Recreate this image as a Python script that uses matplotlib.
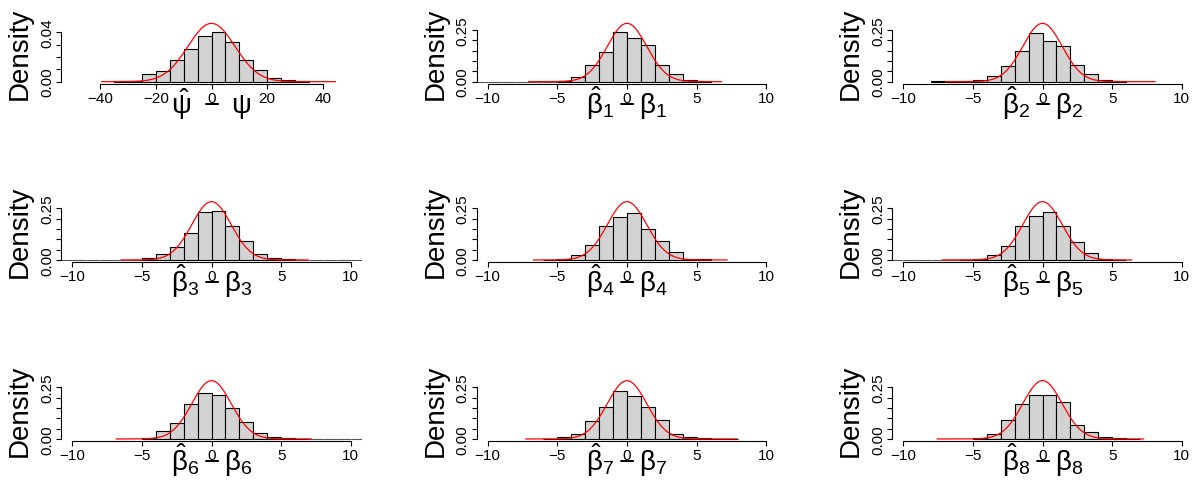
import numpy as np
import matplotlib
matplotlib.use('Agg')
import matplotlib.pyplot as plt

plt.rcParams['font.family'] = ['Liberation Sans', 'DejaVu Sans']
plt.rcParams['mathtext.fontset'] = 'custom'
plt.rcParams['mathtext.rm'] = 'Liberation Sans'
plt.rcParams['mathtext.it'] = 'Liberation Sans'
plt.rcParams['mathtext.bf'] = 'Liberation Sans:bold'

# ---- data (densities per bin) ----
psi_dens = [0.0003, 0.0008, 0.0065, 0.0089, 0.0176, 0.0262, 0.0368,
            0.0400, 0.0319, 0.0178, 0.0092, 0.0027, 0.0016, 0.0005]
b1_dens = [0.005, 0.023, 0.082, 0.142, 0.239, 0.210, 0.176, 0.079, 0.037, 0.008, 0.003]
b2_dens = [0.003, 0.002, 0.002, 0.006, 0.029, 0.074, 0.148, 0.234, 0.198,
           0.171, 0.081, 0.035, 0.008, 0.003]
b3_dens = [0.010, 0.028, 0.065, 0.130, 0.232, 0.237, 0.162, 0.091, 0.028, 0.008, 0.003]
b4_dens = [0.002, 0.003, 0.026, 0.071, 0.166, 0.207, 0.229, 0.151, 0.090, 0.039, 0.007, 0.003]
b5_dens = [0.002, 0.007, 0.023, 0.066, 0.164, 0.215, 0.230, 0.166, 0.087, 0.033, 0.005, 0.002]
b6_dens = [0.006, 0.040, 0.077, 0.169, 0.223, 0.215, 0.148, 0.084, 0.027, 0.011, 0.003, 0.002]
b7_dens = [0.002, 0.010, 0.025, 0.085, 0.153, 0.230, 0.210, 0.153, 0.092, 0.026,
           0.008, 0.004, 0.002, 0.001]
b8_dens = [0.006, 0.023, 0.094, 0.169, 0.212, 0.212, 0.177, 0.067, 0.034, 0.008, 0.003, 0.002]

densities = [psi_dens, b1_dens, b2_dens, b3_dens, b4_dens, b5_dens, b6_dens, b7_dens, b8_dens]
first_edge = [-35, -5, -8, -5, -6, -6, -5, -6, -5]
bin_width = [5, 1, 1, 1, 1, 1, 1, 1, 1]

# empty bins (zero height) that still show as a flat line
empty_bins = {1: [(-12, -5)], 3: [(-12, -5), (6, 12)], 5: [(-12, -6)], 6: [(7, 12)]}

# normal curve overlay: sd and drawn range
curve_sd = [8.43, 1.414, 1.414, 1.414, 1.414, 1.414, 1.414, 1.414, 1.414]
curve_from = [-39.4, -7.06, -6.95, -6.48, -6.71, -7.18, -6.84, -7.26, -7.55]
curve_to = [44.4, 6.78, 8.08, 6.93, 7.18, 6.40, 7.17, 7.90, 7.25]

labels = [r'$\hat{\psi}\ -\ \psi$'] + [r'$\hat{\beta}_%d - \beta_%d$' % (i, i) for i in range(1, 9)]

psi_xticks = [-40, -20, 0, 20, 40]
beta_xticks = [-10, -5, 0, 5, 10]
psi_yticks = [0.00, 0.01, 0.02, 0.03, 0.04]
beta_yticks = [0.00, 0.05, 0.10, 0.15, 0.20, 0.25]

# ---- layout in pixels ----
W, H = 1196, 485
fig = plt.figure(figsize=(W / 100, H / 100), dpi=100)
col_left = [61, 476.5, 892]
row_top = [22, 200.3, 379.3]
pw, ph = 301, 63

for k in range(9):
    r, c = divmod(k, 3)
    left, top = col_left[c], row_top[r]
    ax = fig.add_axes([left / W, 1 - (top + ph) / H, pw / W, ph / H])

    if k == 0:
        xt, yt, xl = psi_xticks, psi_yticks, 50
        ylabs = ['0.00', '', '', '', '0.04']
    else:
        xt, yt, xl = beta_xticks, beta_yticks, 10
        ylabs = ['0.00', '', '', '', '', '0.25']

    peak = 1 / (curve_sd[k] * np.sqrt(2 * np.pi))
    ax.set_xlim(-xl * 1.08, xl * 1.08)
    ax.set_ylim(-0.04 * peak, 1.04 * peak)

    dens = densities[k]
    bw = bin_width[k]
    edges = first_edge[k] + bw * np.arange(len(dens))
    ax.bar(edges, dens, width=bw, align='edge', color='#d3d3d3',
           edgecolor='black', linewidth=0.8, zorder=2)
    for lo, hi in empty_bins.get(k, []):
        e = np.arange(lo, hi)
        ax.bar(e, np.zeros(len(e)), width=1, align='edge', color='#d3d3d3',
               edgecolor='#555555', linewidth=0.8, zorder=2)

    xs = np.linspace(curve_from[k], curve_to[k], 400)
    ys = np.exp(-0.5 * (xs / curve_sd[k]) ** 2) / (curve_sd[k] * np.sqrt(2 * np.pi))
    ax.plot(xs, ys, color='red', linewidth=0.9, zorder=3)

    for s in ['top', 'right']:
        ax.spines[s].set_visible(False)
    ax.spines['left'].set_bounds(yt[0], yt[-1])
    ax.spines['bottom'].set_bounds(xt[0], xt[-1])
    for s in ['left', 'bottom']:
        ax.spines[s].set_linewidth(0.8)
    ax.set_facecolor('none')

    ax.set_xticks(xt)
    ax.set_xticklabels([str(v).replace('-', '\u2212') for v in xt])
    ax.set_yticks(yt)
    ax.set_yticklabels(ylabs, rotation=90, va='center')
    ax.tick_params(direction='out', length=3.6, width=0.8, labelsize=11, pad=1.5)

    # x label and y label placed like R's margin text
    fig.text((left + pw / 2) / W, 1 - (top + ph + 28.5) / H, labels[k],
             ha='center', va='baseline', fontsize=20)
    fig.text((left - 41) / W, 1 - (top + ph / 2) / H, 'Density',
             rotation=90, ha='center', va='center', fontsize=20)

fig.savefig('out.png', dpi=100)
